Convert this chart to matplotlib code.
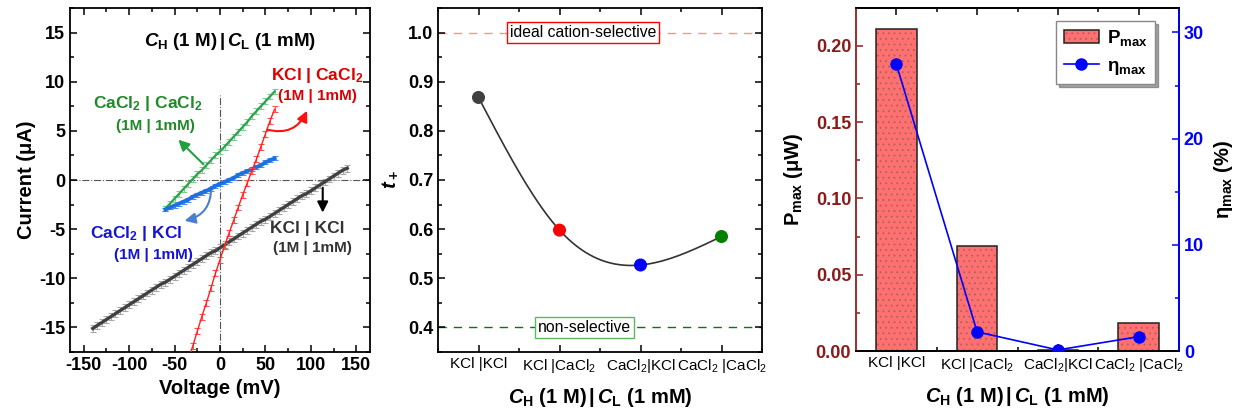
import numpy as np
import matplotlib
matplotlib.use("Agg")
import matplotlib.pyplot as plt
from matplotlib.ticker import MultipleLocator

plt.rcParams['font.family'] = ['Liberation Sans', 'DejaVu Sans']
plt.rcParams['font.weight'] = 'bold'
plt.rcParams['axes.labelweight'] = 'bold'
plt.rcParams['axes.unicode_minus'] = False
plt.rcParams['mathtext.fontset'] = 'custom'
plt.rcParams['mathtext.rm'] = 'Liberation Sans:bold'
plt.rcParams['mathtext.it'] = 'Liberation Sans:italic:bold'
plt.rcParams['mathtext.bf'] = 'Liberation Sans:bold'
plt.rcParams['hatch.color'] = '#b06060'
plt.rcParams['hatch.linewidth'] = 0.6

# ---- I-V data ----
v_kcl = np.arange(-140, 145, 5)
i_kcl = [-15.1, -14.8, -14.5, -14.2, -13.9, -13.6, -13.3, -13.0, -12.7, -12.4,
         -12.1, -11.8, -11.5, -11.2, -10.9, -10.6, -10.4, -10.1, -9.8, -9.5,
         -9.2, -8.9, -8.6, -8.3, -8.0, -7.7, -7.4, -7.2, -6.9, -6.6,
         -6.3, -6.0, -5.7, -5.4, -5.1, -4.8, -4.5, -4.2, -4.0, -3.7,
         -3.4, -3.1, -2.8, -2.5, -2.2, -1.9, -1.6, -1.4, -1.1, -0.8,
         -0.5, -0.2, 0.1, 0.4, 0.7, 1.0, 1.2]
v_kcl_cacl2 = np.arange(-40, 65, 5)
i_kcl_cacl2 = [-19.9, -18.4, -16.9, -15.4, -13.9, -12.5, -11.0, -9.5, -8.1, -6.7,
               -5.4, -4.1, -2.8, -1.5, -0.3, 0.9, 2.1, 3.4, 4.7, 6.0, 7.2]
v_half = np.arange(-60, 65, 5)
i_cacl2_cacl2 = [-2.9, -2.4, -1.9, -1.4, -0.9, -0.4, 0.1, 0.6, 1.0, 1.5,
                 2.0, 2.5, 2.9, 3.4, 3.9, 4.4, 4.9, 5.4, 5.9, 6.5,
                 7.0, 7.5, 8.0, 8.5, 9.0]
i_cacl2_kcl = [-3.0, -2.8, -2.6, -2.4, -2.2, -2.0, -1.7, -1.5, -1.3, -1.1,
               -0.9, -0.6, -0.4, -0.2, 0.0, 0.2, 0.5, 0.7, 0.9, 1.1,
               1.3, 1.5, 1.8, 2.0, 2.2]

# ---- transference number / power data ----
pairs = ["KCl |KCl", "KCl |CaCl$\\mathregular{_2}$",
         "CaCl$\\mathregular{_2}$|KCl", "CaCl$\\mathregular{_2}$ |CaCl$\\mathregular{_2}$"]
t_plus = [0.868, 0.598, 0.527, 0.585]
t_colors = ['#404040', '#ff0000', '#0000ff', '#008000']
p_max = [0.2107, 0.0685, 0.0008, 0.0186]
eta_max = [27.0, 1.8, 0.1, 1.35]

xlab = r"$\mathit{C}_{\rm H}$ (1 M)$\,|\,$$\mathit{C}_{\rm L}$ (1 mM)"

W, H = 1243, 419
fig = plt.figure(figsize=(W / 100, H / 100), dpi=100)


def style_axes(ax):
    for s in ax.spines.values():
        s.set_linewidth(1.3)
    ax.tick_params(which='both', direction='in', top=True, right=True, width=1.1,
                   labelsize=13)
    ax.tick_params(which='major', length=5)
    ax.tick_params(which='minor', length=3)


# ============ panel 1: I-V ============
ax1 = fig.add_axes([70 / W, 1 - 352 / H, 300 / W, 344 / H])
style_axes(ax1)
ax1.axhline(0, color='#555555', lw=0.8, ls='-.', zorder=1)
ax1.plot([0, 0], [-17.5, 8.6], color='#555555', lw=0.8, ls='-.', zorder=1)

ax1.errorbar(v_kcl, i_kcl, yerr=0.35, color='#404040', ecolor='#a8a8a8', lw=2.4,
             elinewidth=0.8, capsize=2.5, capthick=0.8, zorder=3)
ax1.errorbar(v_kcl_cacl2, i_kcl_cacl2, yerr=0.3, color='#ff2020', ecolor='#ff5050', lw=1.0,
             elinewidth=0.8, capsize=2.5, capthick=0.8, zorder=4)
ax1.errorbar(v_half, i_cacl2_cacl2, yerr=0.3, color='#2fa050', ecolor='#7fcf95', lw=1.6,
             elinewidth=0.8, capsize=2.5, capthick=0.8, zorder=3)
ax1.errorbar(v_half, i_cacl2_kcl, yerr=0.2, color='#1e6fe0', ecolor='#4a8ff0', lw=2.8,
             elinewidth=0.8, capsize=2, capthick=0.8, zorder=3)

ax1.set_xlim(-165, 165)
ax1.set_ylim(-17.5, 17.5)
ax1.xaxis.set_major_locator(MultipleLocator(50))
ax1.xaxis.set_minor_locator(MultipleLocator(25))
ax1.yaxis.set_major_locator(MultipleLocator(5))
ax1.yaxis.set_minor_locator(MultipleLocator(2.5))
ax1.set_xlabel("Voltage (mV)", fontsize=14.5)
ax1.set_ylabel("Current (μA)", fontsize=14.5, labelpad=2)

ax1.text(11, 14.1, xlab, ha='center', va='center', fontsize=13.5)
ax1.text(-79, 7.8, "CaCl$_2$ | CaCl$_2$", color='#1f8a2a', ha='center', va='center', fontsize=12.5)
ax1.text(-71, 5.5, "(1M | 1mM)", color='#1f8a2a', ha='center', va='center', fontsize=11)
ax1.text(107, 10.6, "KCl | CaCl$_2$", color='#dd0000', ha='center', va='center', fontsize=12.5)
ax1.text(107, 8.5, "(1M | 1mM)", color='#dd0000', ha='center', va='center', fontsize=11)
ax1.text(-92, -5.4, "CaCl$_2$ | KCl", color='#1515d0', ha='center', va='center', fontsize=12.5)
ax1.text(-73, -7.6, "(1M | 1mM)", color='#1515d0', ha='center', va='center', fontsize=11)
ax1.text(96, -4.9, "KCl | KCl", color='#333333', ha='center', va='center', fontsize=12.5)
ax1.text(102, -6.9, "(1M | 1mM)", color='#333333', ha='center', va='center', fontsize=11)

ax1.annotate("", xy=(-48, 4.3), xytext=(-16, 1.4),
             arrowprops=dict(arrowstyle='-|>', color='#22a040', lw=1.5, mutation_scale=16))
ax1.annotate("", xy=(97, 7.3), xytext=(49, 5.2),
             arrowprops=dict(arrowstyle='-|>', color='#ff1010', lw=1.5, mutation_scale=16,
                             connectionstyle='arc3,rad=0.45'))
ax1.annotate("", xy=(-42, -4.2), xytext=(-10, -0.4),
             arrowprops=dict(arrowstyle='-|>', color='#4a7fd0', lw=1.5, mutation_scale=16,
                             connectionstyle='arc3,rad=-0.45'))
ax1.annotate("", xy=(113, -3.6), xytext=(113, -0.5),
             arrowprops=dict(arrowstyle='-|>', color='black', lw=1.5, mutation_scale=16))

# ============ panel 2: t+ ============
ax2 = fig.add_axes([438 / W, 1 - 352 / H, 324 / W, 344 / H])
style_axes(ax2)
pos = np.arange(len(pairs))


def natural_spline(x, y, xs):
    x = np.asarray(x, float)
    y = np.asarray(y, float)
    n = len(x)
    h = np.diff(x)
    A = np.zeros((n, n))
    b = np.zeros(n)
    A[0, 0] = A[-1, -1] = 1
    for k in range(1, n - 1):
        A[k, k - 1] = h[k - 1]
        A[k, k] = 2 * (h[k - 1] + h[k])
        A[k, k + 1] = h[k]
        b[k] = 6 * ((y[k + 1] - y[k]) / h[k] - (y[k] - y[k - 1]) / h[k - 1])
    M = np.linalg.solve(A, b)
    idx = np.clip(np.searchsorted(x, xs) - 1, 0, n - 2)
    x0, x1 = x[idx], x[idx + 1]
    hh = x1 - x0
    return (M[idx] * (x1 - xs) ** 3 / (6 * hh) + M[idx + 1] * (xs - x0) ** 3 / (6 * hh)
            + (y[idx] / hh - M[idx] * hh / 6) * (x1 - xs)
            + (y[idx + 1] / hh - M[idx + 1] * hh / 6) * (xs - x0))


xs = np.linspace(pos[0], pos[-1], 200)
ax2.plot(xs, natural_spline(pos, t_plus, xs), color='#333333', lw=1.2, zorder=2)
ax2.scatter(pos, t_plus, c=t_colors, s=70, zorder=3)
ax2.axhline(1.0, color='#ff9090', lw=1, ls=(0, (6, 5)), zorder=1)
ax2.axhline(0.4, color='#1a6b1a', lw=1, ls=(0, (6, 5)), zorder=1)
ax2.text(1.29, 1.0, "ideal cation-selective", ha='center', va='center', fontsize=11.3,
         fontweight='normal', bbox=dict(boxstyle='square,pad=0.2', fc='white', ec='red', lw=1))
ax2.text(1.31, 0.4, "non-selective", ha='center', va='center', fontsize=11.3,
         fontweight='normal', bbox=dict(boxstyle='square,pad=0.2', fc='white', ec='#5cb85c', lw=1))
ax2.set_xlim(-0.5, 3.5)
ax2.set_ylim(0.35, 1.05)
ax2.set_xticks(pos)
ax2.set_xticklabels(pairs, fontsize=11, fontweight='normal')
ax2.xaxis.set_minor_locator(MultipleLocator(0.5))
ax2.yaxis.set_major_locator(MultipleLocator(0.1))
ax2.yaxis.set_minor_locator(MultipleLocator(0.05))
ax2.set_xlabel(xlab, fontsize=14.5, labelpad=8)
ax2.set_ylabel(r"$\mathit{t}_+$", fontsize=14.5, labelpad=6)

# ============ panel 3: P_max / eta_max ============
ax3 = fig.add_axes([856 / W, 1 - 351 / H, 323 / W, 343 / H])
style_axes(ax3)
ax3.tick_params(which='both', right=False)
bars = ax3.bar(pos, p_max, width=0.5, color='#ff7070', hatch='...', linewidth=0, zorder=2)
edges = ax3.bar(pos, p_max, width=0.5, fill=False, edgecolor='#222222', linewidth=1.1, zorder=3)
ax3.set_xlim(-0.5, 3.5)
ax3.set_ylim(0, 0.2247)
ax3.set_xticks(pos)
ax3.set_xticklabels(pairs, fontsize=11, fontweight='normal')
ax3.xaxis.set_minor_locator(MultipleLocator(0.5))
ax3.yaxis.set_major_locator(MultipleLocator(0.05))
ax3.yaxis.set_minor_locator(MultipleLocator(0.025))
ax3.tick_params(axis='y', colors='#8b1a1a', which='both')
ax3.spines['left'].set_color('#a03030')
ax3.set_xlabel(xlab, fontsize=14.5, labelpad=8)
ax3.set_ylabel("P$_{\\mathregular{max}}$ (μW)", fontsize=14.5, labelpad=8)

ax3b = ax3.twinx()
ax3b.plot(pos, eta_max, color='#0000ff', lw=1.2, marker='o', ms=8, zorder=4)
ax3b.set_ylim(0, 32.3)
ax3b.yaxis.set_major_locator(MultipleLocator(10))
ax3b.yaxis.set_minor_locator(MultipleLocator(5))
ax3b.tick_params(which='both', direction='in', colors='#0000ff', width=1.1, labelsize=13)
ax3b.tick_params(which='major', length=5)
ax3b.tick_params(which='minor', length=3)
for s in ax3b.spines.values():
    s.set_linewidth(1.3)
ax3b.spines['right'].set_color('#0000ff')
ax3b.spines['left'].set_color('#a03030')
ax3b.set_ylabel("η$_{\\mathregular{max}}$ (%)", fontsize=14.5, color='black', labelpad=6)

line_h = ax3b.get_lines()[0]
leg = ax3b.legend([(bars[0], edges[0]), line_h], ["P$_{\\rm max}$", "η$_{\\rm max}$"],
                  loc='upper right', bbox_to_anchor=(1155 / W, 1 - 21 / H),
                  bbox_transform=fig.transFigure, fontsize=13.5, fancybox=False, shadow=True,
                  edgecolor='#888888', framealpha=1, handlelength=1.9, handletextpad=0.4,
                  borderpad=0.4, borderaxespad=0)

fig.savefig("out.png", dpi=100)
